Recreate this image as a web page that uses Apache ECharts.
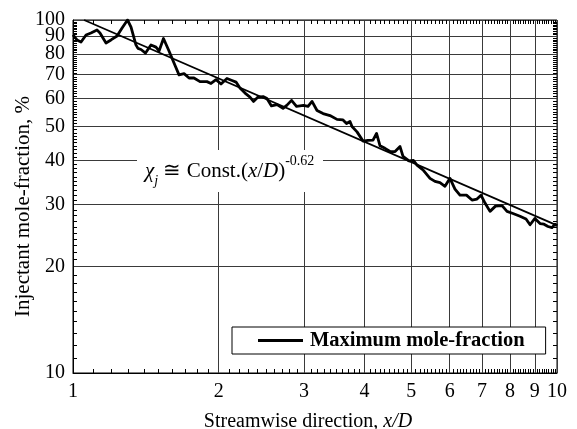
<!DOCTYPE html>
<html><head><meta charset="utf-8">
<script src="https://cdn.jsdelivr.net/npm/echarts@6/dist/echarts.min.js"></script>
<style>html,body{margin:0;padding:0;background:#fff}#c{width:577px;height:429px}</style>
</head><body><div id="c"></div>
<script>
// Streamwise positions x/D of the measured curve
const xPos = [1.0,1.019,1.039,1.064,1.089,1.121,1.137,1.170,1.198,1.233,
  1.263,1.296,1.318,1.349,1.362,1.382,1.412,1.449,1.484,1.506,
  1.538,1.579,1.617,1.656,1.696,1.737,1.778,1.830,1.891,1.928,
  1.975,2.022,2.080,2.131,2.172,2.213,2.267,2.321,2.360,2.411,
  2.470,2.516,2.571,2.639,2.716,2.768,2.828,2.896,2.994,3.059,
  3.118,3.193,3.286,3.396,3.511,3.613,3.674,3.735,3.771,3.862,
  3.974,4.069,4.167,4.238,4.309,4.412,4.519,4.628,4.739,4.807,
  4.946,5.053,5.137,5.286,5.465,5.596,5.731,5.869,6.010,6.155,
  6.303,6.501,6.674,6.834,6.966,7.100,7.271,7.463,7.699,7.884,
  8.111,8.387,8.630,8.797,9.004,9.224,9.400,9.581,9.765,9.905,10.0];
// Maximum injectant mole-fraction, %
const maxMoleFraction = [90.7,87.8,86.6,90.7,91.9,93.7,91.9,86.1,87.8,90.1,
  94.9,100,95.5,85.0,83.1,82.5,80.6,85.0,83.8,81.7,
  88.6,81.7,75.5,69.9,70.5,68.5,68.5,66.9,66.9,66.1,
  67.8,65.9,68.3,67.4,66.7,64.2,62.1,60.5,58.8,60.5,
  60.7,59.9,57.1,57.6,56.2,57.4,59.2,56.9,57.3,56.9,
  58.8,55.4,54.3,53.6,52.3,52.1,50.9,51.6,49.9,48.2,
  45.4,45.6,45.7,47.7,44.0,43.3,42.4,42.4,43.8,41.1,
  39.9,40.0,38.8,37.6,35.6,34.9,34.6,33.8,35.6,33.2,
  31.9,31.9,30.9,31.1,31.9,30.3,28.7,29.7,29.8,28.7,
  28.3,27.8,27.3,26.3,27.4,26.5,26.4,26.0,25.8,26.4,26.1];
// Power-law fit line end points
const fitX = [1.054, 10];
const fitY = [100, 26.2];
// Tick labels
const xTickValues = [1,2,3,4,5,6,7,8,9,10];
const yTickValues = [10,20,30,40,50,60,70,80,90,100];
const seriesName = 'Maximum mole-fraction';

function minorsOf(major){
  const out=[];
  for(let i=0;i<major.length-1;i++){
    const a=major[i], b=major[i+1];
    for(let k=1;k<10;k++) out.push(+(a+(b-a)*k/10).toFixed(4));
  }
  return out;
}
const xMinor = minorsOf(xTickValues);
const yMinor = minorsOf(yTickValues);

const FONT = 'Liberation Serif';
const labelStyle = {fontFamily: FONT, fontSize: 20, color: '#000'};
const X0 = xTickValues[0], X1 = xTickValues[xTickValues.length-1];
const Y0 = yTickValues[0], Y1 = yTickValues[yTickValues.length-1];
const MINOR_LEN = 4;

// The y labels are split over two overlaid axes so that close labels (80/90/100) are not auto-hidden
function yAxisDef(labels, main){
  return {
    type: 'log', logBase: 10, min: Y0, max: Y1, position: 'left', gridIndex: 0,
    axisLine: {show: main, onZero: false, lineStyle: {color: '#000', width: 1}},
    axisTick: {show: false, customValues: main ? yTickValues : labels},
    axisLabel: {show: true, customValues: labels, margin: 8, showMinLabel: true, showMaxLabel: true, hideOverlap: false, ...labelStyle},
    splitLine: {show: main, lineStyle: {color: '#3a3a3a', width: 1}},
    minorTick: {show: false}, minorSplitLine: {show: false}
  };
}
const yMain = yAxisDef(yTickValues.filter((v, i) => i % 2 === 0), true);
yMain.name = 'Injectant mole-fraction, %';
yMain.nameLocation = 'middle';
yMain.nameGap = 33;
yMain.nameTextStyle = {...labelStyle, fontSize: 21, padding: [0, 20, 0, 0]};
const yAlt = yAxisDef(yTickValues.filter((v, i) => i % 2 === 1), false);

const annGraphic = [
  {type: 'rect', z: 50, shape: {x: 137, y: 150, width: 186, height: 42}, style: {fill: '#fff'}},
  {type: 'text', z: 51, x: 145, y: 154, style: {
    text: '{i|χ}{s|j}{n| ≅ Const.(}{i|x}{n|/}{i|D}{n|)}{p|-0.62}',
    verticalAlign: 'top', fill: '#000',
    rich: {
      n: {fontFamily: FONT, fontSize: 21, lineHeight: 34, color: '#000'},
      i: {fontFamily: FONT, fontSize: 21, fontStyle: 'italic', lineHeight: 34, color: '#000'},
      s: {fontFamily: FONT, fontSize: 14, fontStyle: 'italic', lineHeight: 14, verticalAlign: 'bottom', color: '#000'},
      p: {fontFamily: FONT, fontSize: 14, lineHeight: 26, verticalAlign: 'top', color: '#000'}
    }
  }}
];

const chart = echarts.init(document.getElementById('c'), null, {renderer: 'canvas'});
chart.setOption({
  animation: false,
  backgroundColor: '#fff',
  grid: {left: 73, right: 20, top: 20, bottom: 56, containLabel: false, outerBoundsMode: 'none',
    show: true, borderColor: '#000', borderWidth: 1, backgroundColor: 'transparent'},
  xAxis: {
    type: 'log', logBase: 10, min: X0, max: X1, position: 'bottom',
    name: 'Streamwise direction, {i|x/D}', nameLocation: 'middle', nameGap: 39,
    nameTextStyle: {...labelStyle, padding:[0,14,0,0], rich: {i: {fontFamily: FONT, fontSize: 20, fontStyle: 'italic', color: '#000'}}},
    axisLine: {show: true, onZero: false, lineStyle: {color: '#000', width: 1}},
    axisTick: {show: false, customValues: xTickValues},
    axisLabel: {show: true, customValues: xTickValues, margin: 9, showMinLabel: true, showMaxLabel: true, hideOverlap: false, ...labelStyle},
    splitLine: {show: true, lineStyle: {color: '#3a3a3a', width: 1}},
    minorTick: {show: false}, minorSplitLine: {show: false}
  },
  yAxis: [yMain, yAlt],
  legend: {
    data: [seriesName], left: 232, top: 327,
    padding: [3, 21, 3, 26], itemWidth: 45, itemHeight: 3, itemGap: 0, icon: 'rect',
    backgroundColor: '#fff', borderColor: '#000', borderWidth: 1, borderRadius: 0,
    textStyle: {fontFamily: FONT, fontSize: 20.5, fontWeight: 'bold', color: '#000', padding: [0,0,0,2]},
    selectedMode: false
  },
  graphic: annGraphic,
  series: [
    {
      name: seriesName, type: 'line', xAxisIndex: 0, yAxisIndex: 0,
      data: xPos.map((x, i) => [x, maxMoleFraction[i]]),
      symbol: 'none', showSymbol: false, smooth: false,
      lineStyle: {color: '#000', width: 2.8, join: 'round'}, itemStyle: {color: '#000'}, z: 4
    },
    {
      name: 'fit', type: 'line', xAxisIndex: 0, yAxisIndex: 0,
      data: fitX.map((x, i) => [x, fitY[i]]),
      symbol: 'none', showSymbol: false,
      lineStyle: {color: '#000', width: 1.8}, itemStyle: {color: '#000'}, z: 3
    }
  ]
});

// Minor tick marks on all four sides, placed through the chart's own log scales
const tickGraphic = [];
const finder = {xAxisIndex: 0, yAxisIndex: 0};
function addTick(x1, y1, x2, y2){
  tickGraphic.push({type: 'line', z: 60, shape: {x1: x1, y1: y1, x2: x2, y2: y2}, style: {stroke: '#000', lineWidth: 1}});
}
xMinor.forEach(function (v) {
  const b = chart.convertToPixel(finder, [v, Y0]);
  const t = chart.convertToPixel(finder, [v, Y1]);
  const x = Math.round(b[0]) + 0.5;
  addTick(x, b[1], x, b[1] - MINOR_LEN);
  addTick(x, t[1], x, t[1] + MINOR_LEN);
});
yMinor.forEach(function (v) {
  const l = chart.convertToPixel(finder, [X0, v]);
  const r = chart.convertToPixel(finder, [X1, v]);
  const y = Math.round(l[1]) + 0.5;
  addTick(l[0], y, l[0] + MINOR_LEN, y);
  addTick(r[0], y, r[0] - MINOR_LEN, y);
});
chart.setOption({graphic: annGraphic.concat(tickGraphic)});
</script>
</body></html>
